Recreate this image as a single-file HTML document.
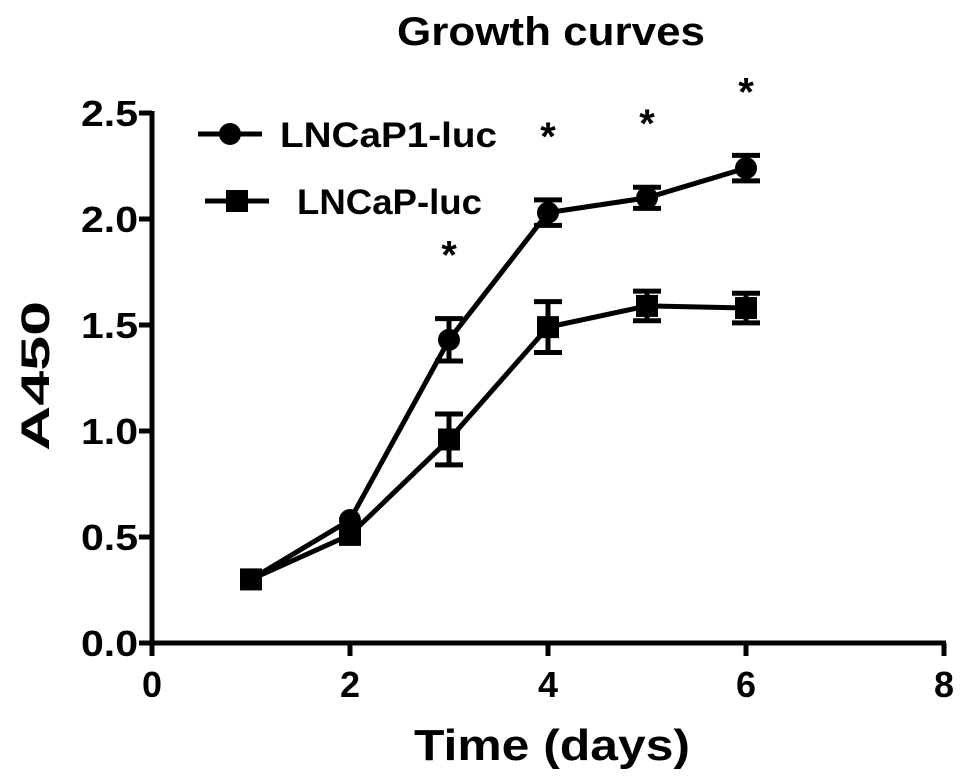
<!DOCTYPE html>
<html><head><meta charset="utf-8"><style>
body{margin:0;background:#fff}
svg{display:block;font-family:"Liberation Sans",Arial,sans-serif;font-weight:bold}
</style></head><body>
<svg id="c" width="969" height="783">
<text x="551" y="45" font-size="40" text-anchor="middle" textLength="308" lengthAdjust="spacingAndGlyphs">Growth curves</text>
<text x="552" y="760" font-size="44" text-anchor="middle" textLength="276" lengthAdjust="spacingAndGlyphs">Time (days)</text>
<text transform="translate(49,376) rotate(-90)" font-size="40" text-anchor="middle" textLength="150" lengthAdjust="spacingAndGlyphs">A450</text>
<g id="axes"></g>
<g id="marks"></g>
<g>
<g>
<line x1="198" y1="134" x2="262" y2="134" stroke="#000" stroke-width="5"/>
<circle cx="230" cy="134" r="11"/>
<text x="280" y="147" font-size="35" textLength="217" lengthAdjust="spacingAndGlyphs">LNCaP1-luc</text></g>
<g>
<line x1="205" y1="201" x2="269" y2="201" stroke="#000" stroke-width="5"/>
<rect x="226" y="190" width="22" height="22"/>
<text x="297" y="214" font-size="35" textLength="185" lengthAdjust="spacingAndGlyphs">LNCaP-luc</text></g>
</g>
</svg>
<script>
const days=[1,2,3,4,5,6];
const lncap1=[0.30,0.58,1.43,2.03,2.10,2.24];
const lncap1Err=[0.01,0.02,0.10,0.06,0.05,0.06];
const lncap=[0.30,0.51,0.96,1.49,1.59,1.58];
const lncapErr=[0.01,0.02,0.12,0.12,0.07,0.07];
const xTicks=[0,2,4,6,8];
const yTicks=[0,0.5,1.0,1.5,2.0,2.5];
const sigDays=[3,4,5,6];
const NS="http://www.w3.org/2000/svg";
const X=d=>152+d*99, Y=v=>643-v*212;
function mk(p,t,a){const e=document.createElementNS(NS,t);for(const k in a)e.setAttribute(k,a[k]);p.appendChild(e);return e;}
const ax=document.getElementById('axes'),mg=document.getElementById('marks');
let l=mk(ax,'line',{x1:152,y1:Y(2.5)-2,x2:152,y2:655,stroke:'#000','stroke-width':5});


l=mk(ax,'line',{x1:140,y1:643,x2:X(8)+2,y2:643,stroke:'#000','stroke-width':5});


xTicks.forEach(t=>{mk(ax,'line',{x1:X(t),y1:643,x2:X(t),y2:656,stroke:'#000','stroke-width':5});
const tx=mk(ax,'text',{x:X(t),y:697,'font-size':36,'text-anchor':'middle'});tx.textContent=t;

});
yTicks.forEach(t=>{mk(ax,'line',{x1:139,y1:Y(t),x2:152,y2:Y(t),stroke:'#000','stroke-width':5});
const tx=mk(ax,'text',{x:138,y:Y(t)+13,'font-size':36,'text-anchor':'end',textLength:57,lengthAdjust:'spacingAndGlyphs'});tx.textContent=t.toFixed(1);

});
function series(vals,errs,shape,name){
const g=mk(mg,'g',{});


mk(g,'polyline',{points:days.map((d,i)=>X(d)+','+Y(vals[i])).join(' '),fill:'none',stroke:'#000','stroke-width':5,'stroke-linejoin':'round'});
days.forEach((d,i)=>{const x=X(d),y1=Y(vals[i]+errs[i]),y2=Y(vals[i]-errs[i]);
if(errs[i]>0.03){mk(g,'line',{x1:x,y1:y1,x2:x,y2:y2,stroke:'#000','stroke-width':5});
mk(g,'line',{x1:x-14,y1:y1,x2:x+14,y2:y1,stroke:'#000','stroke-width':5});
mk(g,'line',{x1:x-14,y1:y2,x2:x+14,y2:y2,stroke:'#000','stroke-width':5});}
let m;if(shape==='c')m=mk(g,'circle',{cx:x,cy:Y(vals[i]),r:11});
else m=mk(g,'rect',{x:x-11,y:Y(vals[i])-11,width:22,height:22});

});}
series(lncap,lncapErr,'s','series-lncap-luc');
series(lncap1,lncap1Err,'c','series-lncap1-luc');
sigDays.forEach(d=>{const i=days.indexOf(d);
const s=mk(mg,'text',{x:X(d),y:Y(lncap1[i]+lncap1Err[i])-50,'font-size':40,'text-anchor':'middle'});s.textContent='*';

});
</script>
</body></html>
